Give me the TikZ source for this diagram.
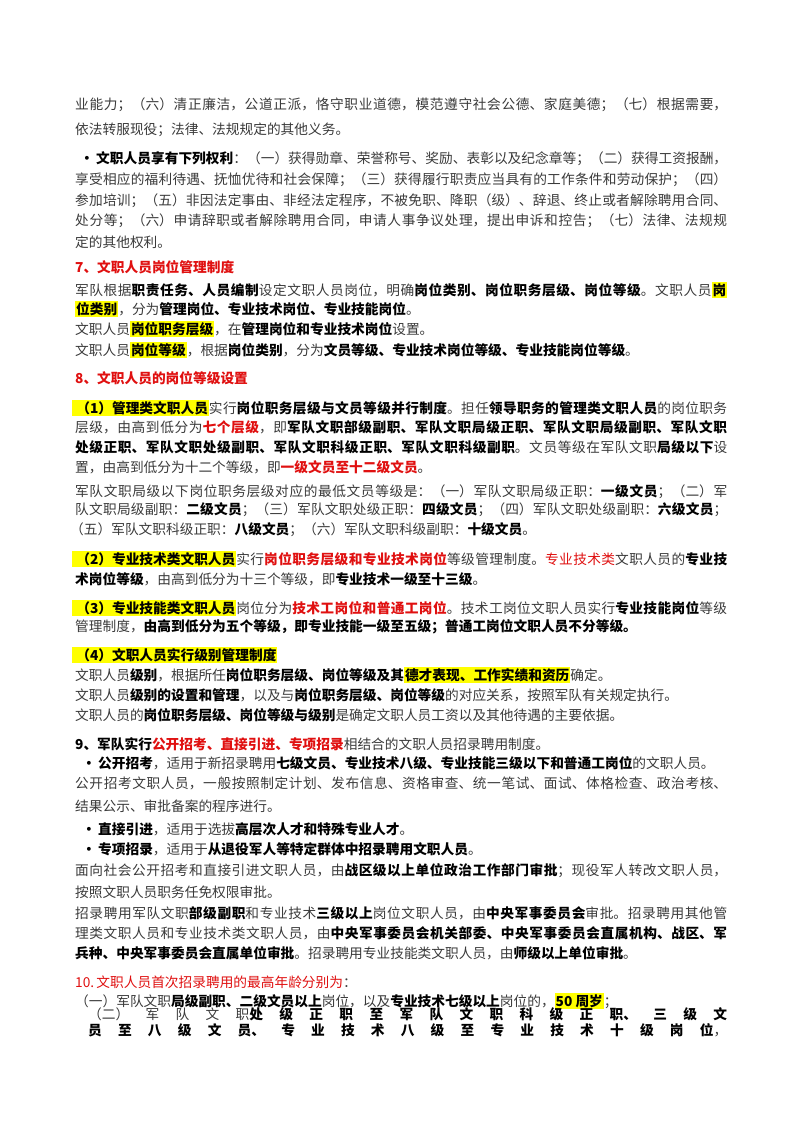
\documentclass[tikz,border=0pt]{standalone}
\usepackage{fontspec}
\setmainfont{Noto Sans CJK SC}
\XeTeXlinebreaklocale "zh"
\XeTeXlinebreakskip=0pt plus 3pt
\definecolor{txt}{HTML}{3A3A3A}
\definecolor{rd}{HTML}{E01010}
\definecolor{hl}{HTML}{FFFF00}
\newcommand{\bb}[1]{{\bfseries\color{black}#1}}
\newcommand{\rr}[1]{{\color{rd}#1}}
\newcommand{\rb}[1]{{\bfseries\color{rd}#1}}
\newcommand{\hy}[1]{{\setlength{\fboxsep}{1pt}\colorbox{hl}{\bfseries\color{black}#1}}}
\newcommand{\fl}[2][652pt]{\parbox[c]{#1}{\hbadness=10000\parindent=0pt\parfillskip=0pt #2\par}}
\tikzset{ln/.style={anchor=west,inner sep=0pt,font=\fontsize{13.7pt}{16pt}\selectfont,text=txt}}
\begin{document}
\begin{tikzpicture}[x=1pt,y=1pt]
\useasboundingbox[fill=white] (0,0) rectangle (800,-1132);
\node[ln] (l1) at (75,-105) {\fl{业能力；（六）清正廉洁，公道正派，恪守职业道德，模范遵守社会公德、家庭美德；（七）根据需要，}};
\node[ln] (l2) at (75,-130) {依法转服现役；法律、法规规定的其他义务。};
\node[ln] (l3) at (80,-159) {\fl[647pt]{\bb{•\,文职人员享有下列权利}：（一）获得勋章、荣誉称号、奖励、表彰以及纪念章等；（二）获得工资报酬，}};
\node[ln] (l4) at (75,-180) {\fl{享受相应的福利待遇、抚恤优待和社会保障；（三）获得履行职责应当具有的工作条件和劳动保护；（四）}};
\node[ln] (l5) at (75,-201) {\fl{参加培训；（五）非因法定事由、非经法定程序，不被免职、降职（级）、辞退、终止或者解除聘用合同、}};
\node[ln] (l6) at (75,-221) {\fl{处分等；（六）申请辞职或者解除聘用合同，申请人事争议处理，提出申诉和控告；（七）法律、法规规}};
\node[ln] (l7) at (75,-242) {定的其他权利。};
\node[ln] (l8) at (75,-267) {\rb{7、文职人员岗位管理制度}};
\node[ln] (l9) at (75,-290) {\fl{军队根据\bb{职责任务、人员编制}设定文职人员岗位，明确\bb{岗位类别、岗位职务层级、岗位等级}。文职人员\hy{岗}}};
\node[ln] (l10) at (75,-309) {\hy{位类别}，分为\bb{管理岗位、专业技术岗位、专业技能岗位}。};
\node[ln] (l11) at (75,-329) {文职人员\hy{岗位职务层级}，在\bb{管理岗位和专业技术岗位}设置。};
\node[ln] (l12) at (75,-350) {文职人员\hy{岗位等级}，根据\bb{岗位类别}，分为\bb{文员等级、专业技术岗位等级、专业技能岗位等级}。};
\node[ln] (l13) at (75,-378) {\rb{8、文职人员的岗位等级设置}};
\node[ln] (l14) at (72,-408) {\fl[655pt]{\hy{\ （1）管理类文职人员}实行\bb{岗位职务层级与文员等级并行制度}。担任\bb{领导职务的管理类文职人员}的岗位职务}};
\node[ln] (l15) at (75,-427) {\fl{层级，由高到低分为\rb{七个层级}，即\bb{军队文职部级副职、军队文职局级正职、军队文职局级副职、军队文职}}};
\node[ln] (l16) at (75,-447) {\fl{\bb{处级正职、军队文职处级副职、军队文职科级正职、军队文职科级副职}。文员等级在军队文职\bb{局级以下}设}};
\node[ln] (l17) at (75,-467) {置，由高到低分为十二个等级，即\rb{一级文员至十二级文员}。};
\node[ln] (l18) at (75,-492) {\fl{军队文职局级以下岗位职务层级对应的最低文员等级是：（一）军队文职局级正职：\bb{一级文员}；（二）军}};
\node[ln] (l19) at (75,-510) {\fl{队文职局级副职：\bb{二级文员}；（三）军队文职处级正职：\bb{四级文员}；（四）军队文职处级副职：\bb{六级文员}；}};
\node[ln] (l20) at (70,-530) {（五）军队文职科级正职：\bb{八级文员}；（六）军队文职科级副职：\bb{十级文员}。};
\node[ln] (l21) at (72,-559) {\fl[655pt]{\hy{\ （2）专业技术类文职人员}实行\rb{岗位职务层级和专业技术岗位}等级管理制度。\rr{专业技术类}文职人员的\bb{专业技}}};
\node[ln] (l22) at (75,-579) {\bb{术岗位等级}，由高到低分为十三个等级，即\bb{专业技术一级至十三级}。};
\node[ln] (l23) at (72,-608) {\fl[655pt]{\hy{\ （3）专业技能类文职人员}岗位分为\rb{技术工岗位和普通工岗位}。技术工岗位文职人员实行\bb{专业技能岗位}等级}};
\node[ln] (l24) at (75,-627) {管理制度，\bb{由高到低分为五个等级，即专业技能一级至五级；普通工岗位文职人员不分等级。}};
\node[ln] (l25) at (72,-655) {\hy{\ （4）文职人员实行级别管理制度}};
\node[ln] (l26) at (75,-675) {文职人员\bb{级别}，根据所任\bb{岗位职务层级、岗位等级及其}\hy{德才表现、工作实绩和资历}确定。};
\node[ln] (l27) at (75,-695) {文职人员\bb{级别的设置和管理}，以及与\bb{岗位职务层级、岗位等级}的对应关系，按照军队有关规定执行。};
\node[ln] (l28) at (75,-715) {文职人员的\bb{岗位职务层级、岗位等级与级别}是确定文职人员工资以及其他待遇的主要依据。};
\node[ln] (l29) at (75,-744) {\bb{9、军队实行}\rb{公开招考、直接引进、专项招录}相结合的文职人员招录聘用制度。};
\node[ln] (l30) at (82,-763) {\bb{•\,公开招考}，适用于新招录聘用\bb{七级文员、专业技术八级、专业技能三级以下和普通工岗位}的文职人员。};
\node[ln] (l31) at (75,-783) {\fl{公开招考文职人员，一般按照制定计划、发布信息、资格审查、统一笔试、面试、体格检查、政治考核、}};
\node[ln] (l32) at (75,-806) {结果公示、审批备案的程序进行。};
\node[ln] (l33) at (82,-829) {\bb{•\,直接引进}，适用于选拔\bb{高层次人才和特殊专业人才}。};
\node[ln] (l34) at (82,-849) {\bb{•\,专项招录}，适用于\bb{从退役军人等特定群体中招录聘用文职人员}。};
\node[ln] (l35) at (75,-871) {\fl{面向社会公开招考和直接引进文职人员，由\bb{战区级以上单位政治工作部门审批}；现役军人转改文职人员，}};
\node[ln] (l36) at (75,-892) {按照文职人员职务任免权限审批。};
\node[ln] (l37) at (75,-913) {\fl{招录聘用军队文职\bb{部级副职}和专业技术\bb{三级以上}岗位文职人员，由\bb{中央军事委员会}审批。招录聘用其他管}};
\node[ln] (l38) at (75,-933) {\fl{理类文职人员和专业技术类文职人员，由\bb{中央军事委员会机关部委、中央军事委员会直属机构、战区、军}}};
\node[ln] (l39) at (75,-953) {\bb{兵种、中央军事委员会直属单位审批}。招录聘用专业技能类文职人员，由\bb{师级以上单位审批}。};
\node[ln] (l40) at (75,-982) {\rr{10.\,文职人员首次招录聘用的最高年龄分别为}：};
\node[ln] (l41) at (75,-1001) {（一）军队文职\bb{局级副职、二级文员以上}岗位，以及\bb{专业技术七级以上}岗位的，\hy{50 周岁}；};
\node[ln] (l42) at (88,-1022) {\fl[639pt]{（二）军队文职\bb{处级正职至军队文职科级正职、三级文员至八级文员、专业技术八级至专业技术十级岗位}，}};
\end{tikzpicture}
\end{document}
